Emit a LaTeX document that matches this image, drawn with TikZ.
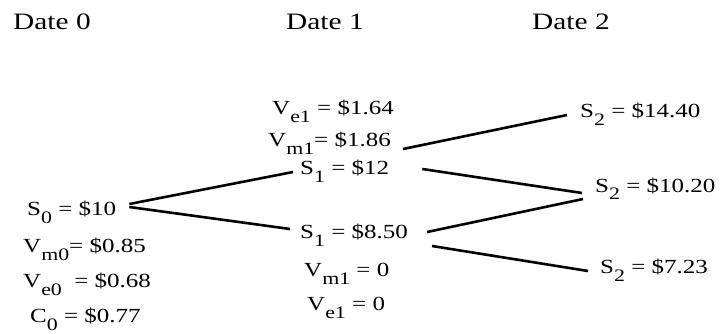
\documentclass[tikz,border=0pt]{standalone}
\usepackage{fontspec}
\setmainfont{Liberation Serif}
\newcommand\wide[1]{\scalebox{1.25}[1]{#1}}
\newcommand\lowr[1]{\raisebox{-0.4em}{\fontsize{17.5}{17.5}\selectfont #1}}
\tikzset{
  lbl/.style={anchor=base west, inner sep=0pt, font=\fontsize{20}{20}\selectfont},
  datelbl/.style={anchor=base west, inner sep=0pt, font=\fontsize{23.5}{23.5}\selectfont},
  branch/.style={line width=2.6pt}
}
\begin{document}
\begin{tikzpicture}[x=1pt,y=-1pt]
\useasboundingbox (0,0) rectangle (723,334);

% Dates
\node[datelbl] (d0) at (13,30) {\wide{Date 0}};
\node[datelbl] (d1) at (286,30) {\wide{Date 1}};
\node[datelbl] (d2) at (532,30) {\wide{Date 2}};

% Date 0 values
\node[lbl] (s0) at (27,215) {\wide{S\lowr{0} = \$10}};
\node[lbl] (vm0) at (23,252) {\wide{V\lowr{m0}= \$0.85}};
\node[lbl] (ve0) at (23,287) {\wide{V\lowr{e0} \ = \$0.68}};
\node[lbl] (c0) at (30,322) {\wide{C\lowr{0} = \$0.77}};

% Date 1 values
\node[lbl] (ve1u) at (272,115) {\wide{V\lowr{e1} = \$1.64}};
\node[lbl] (vm1u) at (268,147) {\wide{V\lowr{m1}= \$1.86}};
\node[lbl] (s1u) at (300,175) {\wide{S\lowr{1} = \$12}};
\node[lbl] (s1d) at (300,238) {\wide{S\lowr{1} = \$8.50}};
\node[lbl] (vm1d) at (304,276) {\wide{V\lowr{m1} = 0}};
\node[lbl] (ve1d) at (307,310) {\wide{V\lowr{e1} = 0}};

% Date 2 values
\node[lbl] (s2u) at (580,118) {\wide{S\lowr{2} = \$14.40}};
\node[lbl] (s2m) at (595,192) {\wide{S\lowr{2} = \$10.20}};
\node[lbl] (s2d) at (600,273) {\wide{S\lowr{2} = \$7.23}};

% Branches
\draw[branch] ([xshift=13pt,yshift=11pt]s0.base east) -- ([xshift=-7pt,yshift=3pt]s1u.base west);
\draw[branch] ([xshift=13pt,yshift=8pt]s0.base east) -- ([xshift=-10pt,yshift=9pt]s1d.base west);
\draw[branch] ([xshift=12pt,yshift=-2pt]vm1u.base east) -- ([xshift=-13pt,yshift=3pt]s2u.base west);
\draw[branch] ([xshift=33pt,yshift=6pt]s1u.base east) -- ([xshift=-13pt,yshift=-1pt]s2m.base west);
\draw[branch] ([xshift=19pt,yshift=6pt]s1d.base east) -- ([xshift=-12pt,yshift=-7pt]s2m.base west);
\draw[branch] ([xshift=24pt,yshift=-8pt]s1d.base east) -- ([xshift=-12pt,yshift=2pt]s2d.base west);
\end{tikzpicture}
\end{document}
